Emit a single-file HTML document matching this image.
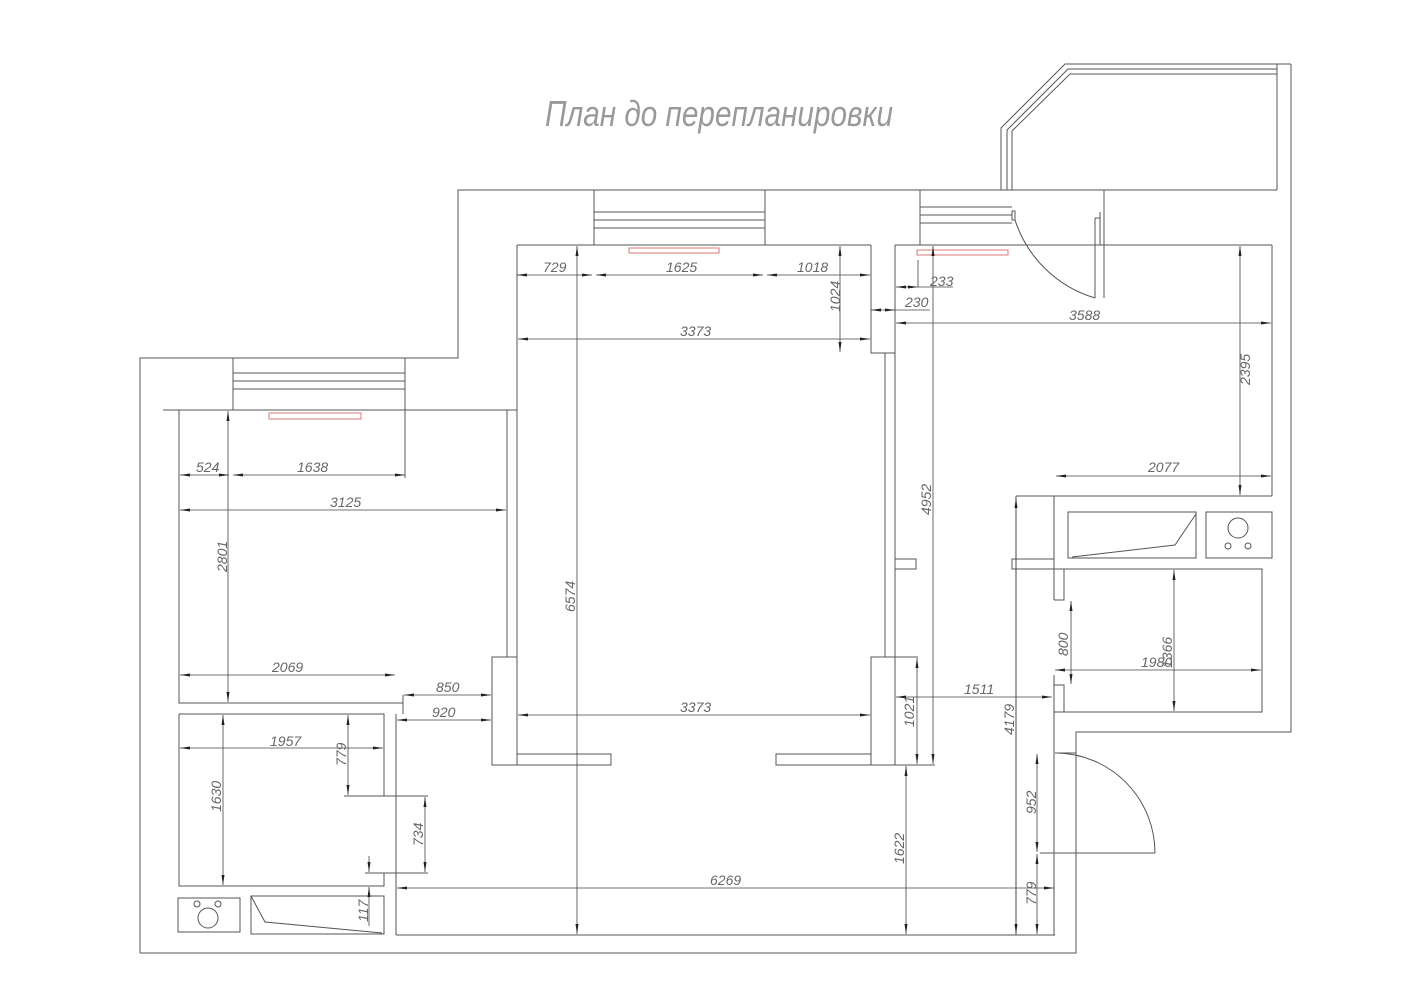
<!DOCTYPE html>
<html><head><meta charset="utf-8">
<style>
html,body{margin:0;padding:0;background:#fff;}
svg{display:block;}
text{font-family:"Liberation Sans","DejaVu Sans",sans-serif;font-style:italic;fill:#666;font-size:14px;}
</style></head>
<body>
<svg width="1414" height="1000" viewBox="0 0 1414 1000" xmlns="http://www.w3.org/2000/svg">
<defs>
<marker id="a" viewBox="0 0 10 4" refX="10" refY="2" markerWidth="10" markerHeight="4" orient="auto-start-reverse" markerUnits="userSpaceOnUse"><path d="M0,0.5 L10,2 L0,3.5z" fill="#222"/></marker>
</defs>
<text x="545" y="126" style="font-size:36px;fill:#999;font-weight:normal" textLength="348" lengthAdjust="spacingAndGlyphs">План до перепланировки</text>

<g fill="none" stroke="#555" stroke-width="1">
<!-- outer outline -->
<polyline points="140,953 140,358 458,358 458,190 1104,190"/>
<polyline points="1104,190 1104,298"/>
<polyline points="1291,64 1291,732 1076,732 1076,953 140,953"/>
<!-- balcony -->
<polyline points="1277,64 1065,64 1001,128 1001,190"/>
<polyline points="1277,69 1068,69 1007,130 1007,190"/>
<polyline points="1277,74 1070,74 1012,131 1012,190"/>
<line x1="1277" y1="64" x2="1277" y2="190"/>
<line x1="1012" y1="190" x2="1277" y2="190"/>
<line x1="1277" y1="64" x2="1291" y2="64"/>
<!-- left window -->
<line x1="233" y1="358" x2="233" y2="410"/><line x1="405" y1="358" x2="405" y2="478"/>
<line x1="233" y1="373" x2="405" y2="373"/><line x1="233" y1="381" x2="405" y2="381"/><line x1="233" y1="389" x2="405" y2="389"/>
<!-- left room -->
<line x1="163" y1="410" x2="517" y2="410"/>
<polyline points="179,410 179,703 396,703"/>
<line x1="507" y1="410" x2="507" y2="657"/>
<polyline points="396,703 403,703 403,695"/>
<line x1="403" y1="695" x2="403" y2="714"/>
<!-- bottom-left bathroom -->
<polyline points="179,714 384,714 384,796"/>
<polyline points="179,714 179,886 384,886 384,873"/>
<line x1="344" y1="796" x2="428" y2="796"/>
<line x1="365" y1="873" x2="428" y2="873"/>
<line x1="396" y1="714" x2="396" y2="935"/>
<rect x="178" y="898" width="62" height="34"/>
<circle cx="208" cy="918" r="10"/><circle cx="197" cy="904" r="3"/><circle cx="218" cy="904" r="3"/>
<rect x="251" y="896" width="133" height="38"/>
<polyline points="251,896 265,922 382,933"/>
<!-- middle room -->
<line x1="517" y1="245" x2="517" y2="657"/>
<line x1="517" y1="245" x2="871" y2="245"/>
<line x1="594" y1="190" x2="594" y2="245"/><line x1="765" y1="190" x2="765" y2="245"/>
<line x1="594" y1="212" x2="765" y2="212"/><line x1="594" y1="220" x2="765" y2="220"/><line x1="594" y1="228" x2="765" y2="228"/>
<rect x="492" y="657" width="25" height="108"/>
<rect x="517" y="754" width="94" height="11"/>
<rect x="776" y="754" width="95" height="11"/>
<rect x="871" y="657" width="24" height="108"/>
<line x1="895" y1="657" x2="918" y2="657"/>
<line x1="895" y1="765" x2="935" y2="765"/>
<!-- partition -->
<polyline points="871,245 871,353 895,353"/>
<line x1="895" y1="245" x2="895" y2="657"/>
<line x1="885" y1="353" x2="885" y2="657"/>
<rect x="895" y="559" width="21" height="10"/>
<!-- right room -->
<line x1="895" y1="245" x2="1272" y2="245"/>
<line x1="1272" y1="245" x2="1272" y2="496"/>
<line x1="1016" y1="496" x2="1272" y2="496"/>
<line x1="920" y1="190" x2="920" y2="245"/>
<line x1="920" y1="207" x2="1012" y2="207"/><line x1="920" y1="215" x2="1012" y2="215"/><line x1="920" y1="223" x2="1012" y2="223"/>
<rect x="1012" y="211" width="3" height="9"/>
<path d="M1015,220 A120,120 0 0 0 1095,298"/>
<line x1="1095" y1="298" x2="1095" y2="218"/><line x1="1095" y1="218" x2="1100" y2="218"/><line x1="1100" y1="212" x2="1100" y2="245"/>
<!-- kitchen/bath right -->
<line x1="1054" y1="496" x2="1054" y2="600"/>
<rect x="1012" y="559" width="42" height="10"/>
<rect x="1068" y="512" width="128" height="46"/>
<polyline points="1072,557 1175,545 1196,514"/>
<rect x="1206" y="512" width="66" height="46"/>
<circle cx="1238" cy="528" r="10"/><circle cx="1228" cy="546" r="3"/><circle cx="1248" cy="546" r="3"/>
<polyline points="1054,569 1262,569 1262,712 1054,712"/>
<polyline points="1064,569 1064,600 1054,600"/>
<polyline points="1054,685 1064,685 1064,712"/>
<line x1="1054" y1="675" x2="1054" y2="935"/>
<line x1="1016" y1="496" x2="1016" y2="935"/>
<line x1="396" y1="935" x2="1055" y2="935"/>
<!-- entry door -->
<line x1="1040" y1="853" x2="1155" y2="853"/>
<path d="M1058,753 A100,100 0 0 1 1155,853"/>
<line x1="1055" y1="753" x2="1076" y2="753"/>
</g>
<!-- red radiators -->
<g fill="none" stroke="#d77" stroke-width="1">
<rect x="269" y="413" width="92" height="6"/>
<rect x="629" y="248" width="90" height="5"/>
<rect x="917" y="250" width="91" height="5"/>
</g>
<!-- dimensions -->
<g stroke="#444" stroke-width="0.8" marker-start="url(#a)" marker-end="url(#a)">
<line x1="517" y1="275" x2="592" y2="275"/>
<line x1="596" y1="275" x2="763" y2="275"/>
<line x1="767" y1="275" x2="870" y2="275"/>
<line x1="577" y1="246" x2="577" y2="934"/>
<line x1="518" y1="339" x2="870" y2="339"/>
<line x1="840" y1="246" x2="840" y2="352"/>
<line x1="896" y1="323" x2="1271" y2="323"/>
<line x1="1240" y1="246" x2="1240" y2="495"/>
<line x1="1056" y1="476" x2="1271" y2="476"/>
<line x1="933" y1="246" x2="933" y2="764"/>
<line x1="1016" y1="498" x2="1016" y2="934"/>
<line x1="896" y1="697" x2="1052" y2="697"/>
<line x1="917" y1="658" x2="917" y2="764"/>
<line x1="906" y1="766" x2="906" y2="934"/>
<line x1="1037" y1="754" x2="1037" y2="852"/>
<line x1="1037" y1="854" x2="1037" y2="934"/>
<line x1="1071" y1="601" x2="1071" y2="684"/>
<line x1="1055" y1="670" x2="1261" y2="670"/>
<line x1="1174" y1="570" x2="1174" y2="711"/>
<line x1="397" y1="888" x2="1054" y2="888"/>
<line x1="518" y1="715" x2="870" y2="715"/>
<line x1="180" y1="475" x2="229" y2="475"/>
<line x1="233" y1="475" x2="405" y2="475"/>
<line x1="180" y1="510" x2="506" y2="510"/>
<line x1="228" y1="411" x2="228" y2="702"/>
<line x1="180" y1="675" x2="395" y2="675"/>
<line x1="404" y1="695" x2="491" y2="695"/>
<line x1="397" y1="720" x2="491" y2="720"/>
<line x1="180" y1="748" x2="383" y2="748"/>
<line x1="348" y1="715" x2="348" y2="795"/>
<line x1="223" y1="715" x2="223" y2="885"/>
<line x1="425" y1="797" x2="425" y2="872"/>
</g>
<g stroke="#444" stroke-width="0.8">
<line x1="896" y1="287" x2="918" y2="287" marker-start="url(#a)" marker-end="url(#a)"/>
<line x1="918" y1="287" x2="953" y2="287"/>
<line x1="918" y1="260" x2="918" y2="287"/>
<line x1="871" y1="310" x2="895" y2="310" marker-start="url(#a)" marker-end="url(#a)"/>
<line x1="895" y1="310" x2="930" y2="310"/>
<line x1="369" y1="856" x2="369" y2="872" marker-end="url(#a)"/>
<line x1="369" y1="926" x2="369" y2="887" marker-end="url(#a)"/>
</g>
<g>
<text x="543" y="272">729</text>
<text x="666" y="272">1625</text>
<text x="797" y="272">1018</text>
<text x="680" y="336">3373</text>
<text x="930" y="286">233</text>
<text x="905" y="307">230</text>
<text x="1069" y="320">3588</text>
<text x="1148" y="472">2077</text>
<text x="196" y="472">524</text>
<text x="297" y="472">1638</text>
<text x="330" y="507">3125</text>
<text x="272" y="672">2069</text>
<text x="436" y="692">850</text>
<text x="432" y="717">920</text>
<text x="270" y="746">1957</text>
<text x="680" y="712">3373</text>
<text x="964" y="694">1511</text>
<text x="1141" y="667">1980</text>
<text x="710" y="885">6269</text>
<text transform="translate(840,312) rotate(-90)">1024</text>
<text transform="translate(1250,385) rotate(-90)">2395</text>
<text transform="translate(931,515) rotate(-90)">4952</text>
<text transform="translate(575,612) rotate(-90)">6574</text>
<text transform="translate(227,572) rotate(-90)">2801</text>
<text transform="translate(346,766) rotate(-90)">779</text>
<text transform="translate(221,812) rotate(-90)">1630</text>
<text transform="translate(423,846) rotate(-90)">734</text>
<text transform="translate(368,922) rotate(-90)">117</text>
<text transform="translate(914,727) rotate(-90)">1021</text>
<text transform="translate(904,864) rotate(-90)">1622</text>
<text transform="translate(1014,735) rotate(-90)">4179</text>
<text transform="translate(1036,814) rotate(-90)">952</text>
<text transform="translate(1036,905) rotate(-90)">779</text>
<text transform="translate(1068,656) rotate(-90)">800</text>
<text transform="translate(1172,668) rotate(-90)">1366</text>
</g>
</svg>
</body></html>
